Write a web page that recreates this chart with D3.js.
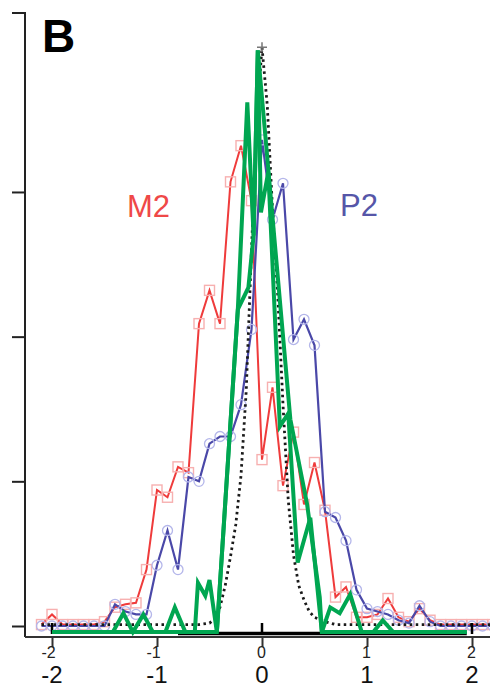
<!DOCTYPE html>
<html>
<head>
<meta charset="utf-8">
<script src="https://cdn.jsdelivr.net/npm/d3@7/dist/d3.min.js"></script>
<style>
  body { margin: 0; background: #fff; }
  svg { display: block; font-family: "Liberation Sans", Arial, sans-serif; }
</style>
</head>
<body>
<svg width="490" height="688"></svg>
<script>
// sample positions of the M2 / P2 histograms
const xGrid = [-2.1, -2.0, -1.9, -1.8, -1.7, -1.6, -1.5, -1.4, -1.3, -1.2, -1.1,
  -1.0, -0.9, -0.8, -0.7, -0.6, -0.5, -0.4, -0.3, -0.2, -0.1, 0.0,
  0.1, 0.2, 0.3, 0.4, 0.5, 0.6, 0.7, 0.8, 0.9, 1.0, 1.1,
  1.2, 1.3, 1.4, 1.5, 1.6, 1.7, 1.8, 1.9, 2.0, 2.1, 2.2];
const m2Values = [0.01, 0.08, 0.01, 0.01, 0.01, 0.01, 0.03, 0.13, 0.15, 0.16, 0.39,
  0.94, 0.89, 1.10, 1.06, 2.09, 2.32, 2.09, 3.07, 3.32, 2.94, 1.15,
  1.65, 0.97, 1.34, 0.84, 1.13, 0.80, 0.20, 0.27, 0.06, 0.06, 0.08,
  0.19, 0.06, 0.03, 0.12, 0.04, 0.01, 0.01, 0.01, 0.01, 0.01, 0.01];
const p2Values = [0.0, 0.0, 0.0, 0.0, 0.0, 0.0, 0.0, 0.15, 0.10, 0.08, 0.08,
  0.42, 0.66, 0.39, 1.03, 1.00, 1.26, 1.31, 1.31, 1.53, 2.05, 3.36,
  2.81, 3.06, 1.98, 2.12, 1.94, 0.79, 0.75, 0.59, 0.25, 0.12, 0.10,
  0.08, 0.04, 0.02, 0.14, 0.03, 0.0, 0.0, 0.0, 0.0, 0.0, 0.0];

// dotted reference curve
const fitX = [-2.1, -0.6, -0.5, -0.45, -0.4, -0.35, -0.3, -0.25, -0.2, -0.15, -0.1, -0.05, 0,
  0.05, 0.1, 0.15, 0.2, 0.25, 0.3, 0.35, 0.4, 0.45, 0.5, 0.6, 0.7, 2.2];
const fitValues = [0.01, 0.01, 0.02, 0.05, 0.13, 0.28, 0.48, 0.70, 1.04, 1.63, 2.60, 3.50, 4.00,
  3.60, 2.88, 2.29, 1.53, 0.87, 0.49, 0.28, 0.18, 0.10, 0.06, 0.03, 0.01, 0.01];

// green overlay traces [x, value]
const greenA = [[-2.0, 0], [-1.42, 0], [-1.32, 0.13], [-1.23, 0], [-1.13, 0.12], [-1.04, 0],
  [-0.92, 0], [-0.83, 0.17], [-0.73, 0], [-0.64, 0], [-0.61, 0.34], [-0.54, 0.25], [-0.50, 0.36],
  [-0.43, 0], [-0.23, 2.23], [-0.14, 3.66], [-0.08, 2.74], [-0.04, 4.02], [-0.01, 2.90],
  [0.06, 3.18], [0.17, 1.42], [0.25, 1.51], [0.34, 0.48], [0.46, 0.79], [0.57, 0],
  [0.65, 0.17], [0.74, 0.13], [0.84, 0.26], [0.95, 0], [1.06, 0], [1.15, 0.08], [1.25, 0], [1.95, 0]];
const greenB = [[-2.0, 0], [-0.43, 0], [-0.23, 2.23], [-0.13, 2.38], [-0.08, 2.74], [-0.04, 4.02],
  [0.27, 1.47], [0.43, 0.88], [0.55, 0.24], [0.57, 0], [1.95, 0]];

const yTicks = [0, 1, 2, 3];
const xTicks = [-2, -1, 0, 1, 2];
const overlayTicks = [-2, 0, 2];

let svg = d3.select("svg");

let xO = d3.scaleLinear().domain([-2, 2]).range([52, 472]);
let yO = d3.scaleLinear().domain([-0.076, 4.237]).range([637, 13]);
let xG = d3.scaleLinear().domain([-2, 2]).range([52, 472]);
let yG = d3.scaleLinear().domain([0, 4]).range([632, 632 - 4 * 144.7]);

// original axes
let yAxis = d3.axisLeft(yO).tickValues(yTicks).tickSize(13).tickSizeOuter(0).tickFormat("");
let gy = svg.append("g").attr("transform", "translate(25,0)").call(yAxis);
gy.select(".domain").remove();
gy.selectAll("line").attr("stroke", "#222").attr("stroke-width", 2);
svg.append("path")
  .attr("d", `M12,${yO.range()[1]}H25V${yO.range()[0]}`)
  .attr("fill", "none").attr("stroke", "#222").attr("stroke-width", 2);

svg.append("line").attr("x1", 25).attr("x2", 490).attr("y1", 637).attr("y2", 637)
  .attr("stroke", "#333").attr("stroke-width", 2);
let xAxis = d3.axisBottom(xO).tickValues(xTicks).tickSize(10).tickSizeOuter(0)
  .tickFormat(d => d);
let gx = svg.append("g").attr("transform", "translate(0,637)").call(xAxis);
gx.select(".domain").remove();
gx.selectAll("line").attr("stroke", "#333").attr("stroke-width", 2);
gx.selectAll("text").attr("font-size", 16).attr("fill", "#222")
  .attr("dy", null).attr("y", 21)
  .attr("dx", d => d < 0 ? -4 : -1);

let m2 = xGrid.map((x, i) => [x, m2Values[i]]);
let p2 = xGrid.map((x, i) => [x, p2Values[i]]);
let fit = fitX.map((x, i) => [x, fitValues[i]]);

let lineO = d3.line().x(d => xO(d[0])).y(d => yO(d[1]));
let lineG = d3.line().x(d => xG(d[0])).y(d => yG(d[1]));

// M2 (red squares)
svg.append("path").datum(m2).attr("d", lineO)
  .attr("fill", "none").attr("stroke", "#ef3b3b").attr("stroke-width", 2);
svg.selectAll(".sq").data(m2).enter().append("rect").attr("class", "sq")
  .attr("x", d => xO(d[0]) - 5).attr("y", d => yO(d[1]) - 5)
  .attr("width", 10).attr("height", 10)
  .attr("fill", "none").attr("stroke", "#f7b0b0").attr("stroke-width", 1.4);

// P2 (blue circles)
svg.append("path").datum(p2).attr("d", lineO)
  .attr("fill", "none").attr("stroke", "#4a48a8").attr("stroke-width", 2.2);
svg.selectAll(".ci").data(p2).enter().append("circle").attr("class", "ci")
  .attr("cx", d => xO(d[0])).attr("cy", d => yO(d[1])).attr("r", 5)
  .attr("fill", "none").attr("stroke", "#b4b6ea").attr("stroke-width", 1.3);

// dotted curve
svg.append("path").datum(fit).attr("d", lineO)
  .attr("fill", "none").attr("stroke", "#1a1a1a").attr("stroke-width", 2.8)
  .attr("stroke-dasharray", "2.5,3.5");
let peak = fit.reduce((a, b) => b[1] > a[1] ? b : a);
svg.append("path")
  .attr("d", `M${xO(peak[0]) - 5},${yO(peak[1])}h10M${xO(peak[0])},${yO(peak[1]) - 5}v10`)
  .attr("stroke", "#777").attr("stroke-width", 1.5);

// overlay axis
svg.append("line").attr("x1", xG(-0.8)).attr("x2", xG(1.95)).attr("y1", yG(0) + 1.5).attr("y2", yG(0) + 1.5)
  .attr("stroke", "#000").attr("stroke-width", 3.5);
svg.selectAll(".otick").data(overlayTicks).enter().append("line").attr("class", "otick")
  .attr("x1", d => xG(d)).attr("x2", d => xG(d))
  .attr("y1", yG(0) - 9).attr("y2", yG(0) + 2)
  .attr("stroke", "#000").attr("stroke-width", 2.5);
svg.selectAll(".olab").data(xTicks).enter().append("text").attr("class", "olab")
  .attr("x", d => xG(d)).attr("y", 683)
  .attr("text-anchor", "middle").attr("font-size", 24).attr("fill", "#111")
  .text(d => d);

// green traces
[greenB, greenA].forEach(g => {
  svg.append("path").datum(g).attr("d", lineG)
    .attr("fill", "none").attr("stroke", "#00a651").attr("stroke-width", 4)
    .attr("stroke-linejoin", "miter").attr("stroke-miterlimit", 4);
});

// labels
svg.append("text").attr("x", 42).attr("y", 52).attr("font-size", 46).attr("font-weight", "bold")
  .attr("fill", "#000").text("B");
svg.append("text").attr("x", 127).attr("y", 217).attr("font-size", 31)
  .attr("fill", "#ef4848").text("M2");
svg.append("text").attr("x", 340).attr("y", 216).attr("font-size", 31)
  .attr("fill", "#5656a8").text("P2");
</script>
</body>
</html>
